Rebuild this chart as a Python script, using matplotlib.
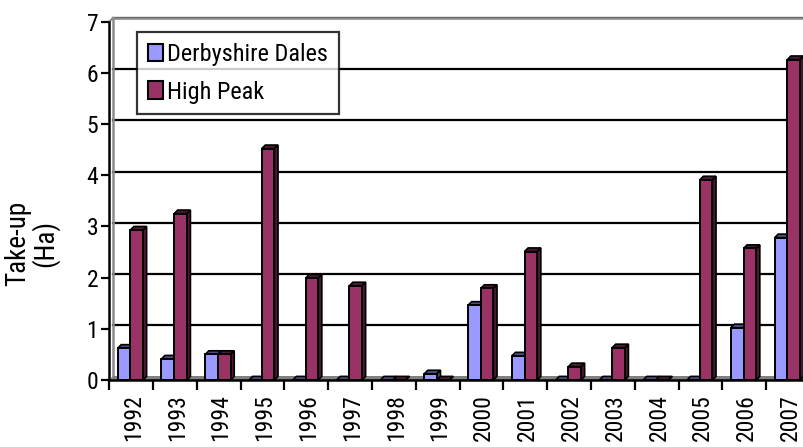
import matplotlib
matplotlib.use("Agg")
import matplotlib.pyplot as plt
from matplotlib.patches import Polygon, Patch
from matplotlib.lines import Line2D

years = ["1992", "1993", "1994", "1995", "1996", "1997", "1998", "1999",
         "2000", "2001", "2002", "2003", "2004", "2005", "2006", "2007"]
derbyshire_dales = [0.62, 0.41, 0.50, 0.0, 0.0, 0.0, 0.0, 0.12,
                    1.46, 0.47, 0.0, 0.0, 0.0, 0.0, 1.02, 2.78]
high_peak = [2.93, 3.25, 0.50, 4.52, 1.99, 1.84, 0.0, 0.0,
             1.79, 2.51, 0.26, 0.63, 0.0, 3.91, 2.57, 6.26]
y_ticks = [0, 1, 2, 3, 4, 5, 6, 7]

FONT = ["Roboto Condensed", "Liberation Sans", "DejaVu Sans"]
TS, LS, YS = 17, 17.5, 19.5
plt.rcParams["font.family"] = FONT

W, H = 804, 447
fig = plt.figure(figsize=(W / 100, H / 100), dpi=100)
x0_px, y0_px, y7_px = 109.3, 380.0, 21.7
cat_px = 43.8
ax = fig.add_axes([x0_px / W, (H - y0_px) / H, (W - x0_px) / W, (y0_px - y7_px) / H])
xmax = (W - x0_px) / cat_px
ax.set_xlim(0, xmax)
ax.set_ylim(0, 7)

unit_px = (y0_px - y7_px) / 7
dpx = 3.6
ddx = dpx / cat_px
ddy = dpx / unit_px

# back wall gridlines
for v in y_ticks[1:]:
    ax.add_line(Line2D([ddx, xmax + 1], [v + ddy, v + ddy], color="black", lw=1.6,
                       zorder=1, clip_on=False))
# top of back wall, left wall
ax.add_line(Line2D([ddx, xmax + 1], [7 + ddy, 7 + ddy], color="#8c8c8c", lw=1.8,
                   zorder=1, clip_on=False))
ax.add_line(Line2D([ddx, ddx], [ddy, 7 + ddy], color="#8c8c8c", lw=1.8,
                   zorder=1, clip_on=False))
ax.add_line(Line2D([0, ddx], [7, 7 + ddy], color="#8c8c8c", lw=1.5,
                   zorder=1, clip_on=False))
# floor
ax.add_patch(Polygon([(0, 0), (xmax + 1, 0), (xmax + 1, ddy), (ddx, ddy)],
                     closed=True, facecolor="#808080", edgecolor="none",
                     zorder=1.5, clip_on=False))

def bar3d(xl, w, h, face, dark, z):
    top = Polygon([(xl, h), (xl + w, h), (xl + w + ddx, h + ddy), (xl + ddx, h + ddy)],
                  closed=True, facecolor=dark, edgecolor="black", lw=1.2, zorder=z,
                  clip_on=False)
    side = Polygon([(xl + w, 0), (xl + w + ddx, ddy), (xl + w + ddx, h + ddy), (xl + w, h)],
                   closed=True, facecolor=dark, edgecolor="black", lw=1.2, zorder=z,
                   clip_on=False)
    ax.add_patch(top)
    ax.add_patch(side)
    if h > 0:
        ax.bar(xl, h, width=w, align="edge", color=face, edgecolor="black",
               lw=1.4, zorder=z + 0.1, clip_on=False)

bw = 0.29
dd_face, dd_dark = "#9999FF", "#4c4c80"
hp_face, hp_dark = "#993366", "#4c1933"
for i in range(len(years)):
    bar3d(i + 0.19, bw, derbyshire_dales[i], dd_face, dd_dark, 3 + i * 0.5)
    bar3d(i + 0.48, bw, high_peak[i], hp_face, hp_dark, 3.2 + i * 0.5)

# axes styling
for s in ["top", "right"]:
    ax.spines[s].set_visible(False)
ax.spines["left"].set_linewidth(1.8)
ax.spines["bottom"].set_linewidth(1.8)
ax.spines["left"].set_zorder(20)
ax.spines["bottom"].set_zorder(20)
ax.set_yticks(y_ticks)
ax.set_yticklabels([str(v) for v in y_ticks], fontsize=TS, family=FONT)
ax.tick_params(axis="y", direction="out", length=6, width=1.6, pad=2)
ax.set_xticks(list(range(len(years))))
ax.set_xticklabels([])
ax.tick_params(axis="x", which="major", direction="out", length=7, width=1.6)
ax.set_xticks([i + 0.55 for i in range(len(years))], minor=True)
ax.set_xticklabels(years, minor=True, rotation=90, fontsize=TS, family=FONT,
                   va="top", ha="center")
ax.tick_params(axis="x", which="minor", length=0, pad=10)
ax.set_facecolor("none")

fig.text(32 / W, 1 - 243 / H, "Take-up\n(Ha)", rotation=90, ha="center", va="center",
         multialignment="center", fontsize=YS, family=FONT, linespacing=0.98)

handles = [Patch(facecolor=dd_face, edgecolor="black", lw=1.5),
           Patch(facecolor=hp_face, edgecolor="black", lw=1.5)]
leg = ax.legend(handles, ["Derbyshire Dales", "High Peak"], loc="upper left",
                bbox_to_anchor=(137 / W, 1 - 32 / H), bbox_transform=fig.transFigure,
                prop={"family": FONT, "size": LS}, frameon=True, fancybox=False,
                borderaxespad=0, handlelength=0.6, handleheight=0.75, handletextpad=0.2,
                labelspacing=0.6, borderpad=0.45)
leg.get_frame().set_edgecolor("black")
leg.get_frame().set_linewidth(1.6)
leg.set_zorder(30)

fig.savefig("out.png", dpi=100)
